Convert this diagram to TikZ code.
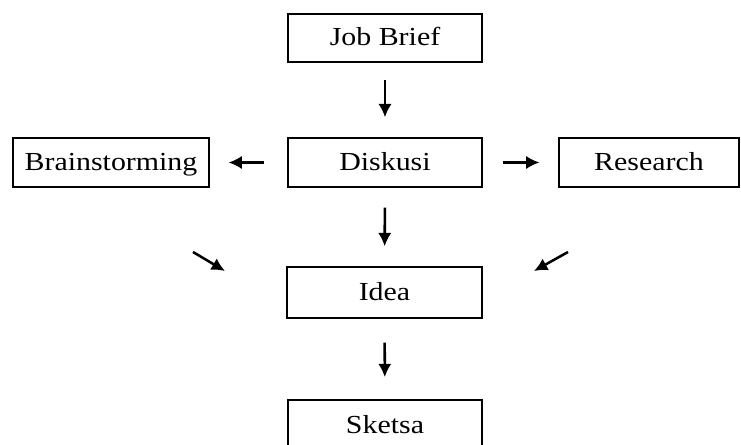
\documentclass[tikz,border=0pt]{standalone}
\usepackage{fontspec}
\setmainfont{Liberation Serif}[FakeStretch=1.15]
\usetikzlibrary{arrows.meta}
\begin{document}
\begin{tikzpicture}[x=0.75pt,y=-0.75pt,
  box/.style={draw, line width=1.3pt, inner sep=0pt, minimum height=36.5pt, text height=15.5pt, text depth=3.5pt, font=\fontsize{19.5}{22}\selectfont},
  arr/.style={line width=1.9pt, -{Latex[length=10pt,width=10pt]}}]
\useasboundingbox (0,0) rectangle (741,445);
\node[box, minimum width=145.5pt] (jb) at (385,38) {Job Brief};
\node[box, minimum width=145.5pt] (dk) at (385,162.5) {Diskusi};
\node[box, minimum width=147pt] (bs) at (111,162.5) {Brainstorming};
\node[box, minimum width=135pt] (rs) at (649,162.5) {Research};
\node[box, minimum width=146pt, minimum height=38pt] (id) at (384.5,292.5) {Idea};
\node[box, minimum width=145.5pt, minimum height=37.5pt] (sk) at (385,425) {Sketsa};
\draw[arr, shorten <=12.75pt, shorten >=15pt] (jb) -- (dk);
\draw[arr, shorten <=15pt, shorten >=15pt] (dk) -- (id);
\draw[arr, shorten <=18pt, shorten >=16.5pt] (id) -- (sk);
\draw[arr, shorten <=17pt, shorten >=14pt] (dk) -- (bs);
\draw[arr, shorten <=15pt, shorten >=14pt] (dk) -- (rs);
\coordinate (l1) at (193,252);
\coordinate (l2) at (225,271);
\coordinate (r1) at (568,252);
\coordinate (r2) at (534,271);
\draw[arr] (l1) -- (l2);
\draw[arr] (r1) -- (r2);
\end{tikzpicture}
\end{document}
